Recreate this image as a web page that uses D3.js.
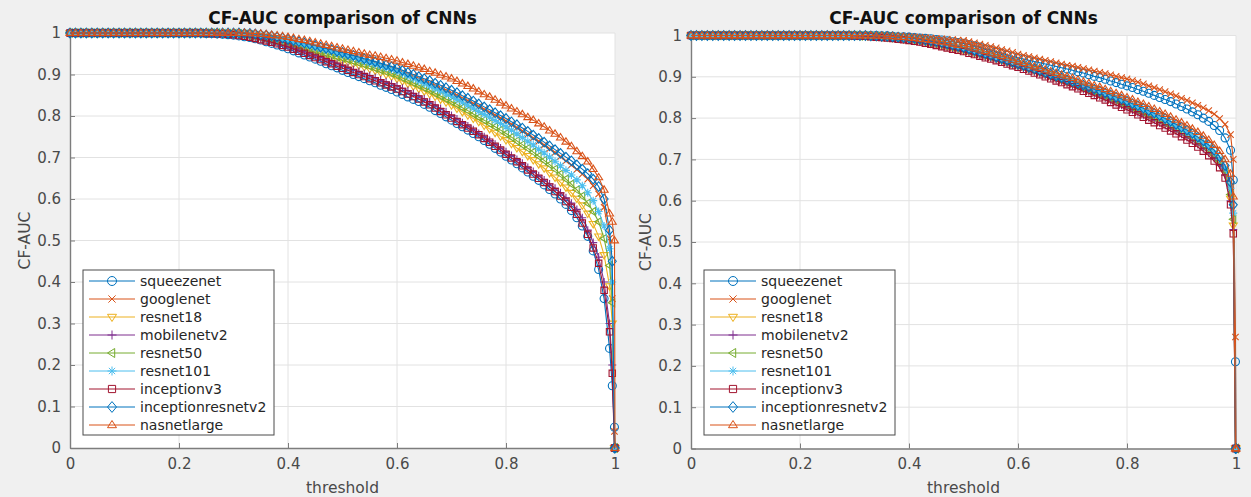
<!DOCTYPE html>
<html>
<head>
<meta charset="utf-8">
<script src="https://cdn.jsdelivr.net/npm/d3@7"></script>
<style>
  html, body { margin: 0; padding: 0; background: #f0f0f0; }
  svg { display: block; font-family: "DejaVu Sans", sans-serif; }
</style>
</head>
<body>
<svg id="fig" width="1251" height="497"></svg>
<script>
// Threshold values along the x axis
const thresholds = [
  0,0.01,0.02,0.03,0.04,0.05,0.06,0.07,0.08,0.09,
  0.1,0.11,0.12,0.13,0.14,0.15,0.16,0.17,0.18,0.19,
  0.2,0.21,0.22,0.23,0.24,0.25,0.26,0.27,0.28,0.29,
  0.3,0.31,0.32,0.33,0.34,0.35,0.36,0.37,0.38,0.39,
  0.4,0.41,0.42,0.43,0.44,0.45,0.46,0.47,0.48,0.49,
  0.5,0.51,0.52,0.53,0.54,0.55,0.56,0.57,0.58,0.59,
  0.6,0.61,0.62,0.63,0.64,0.65,0.66,0.67,0.68,0.69,
  0.7,0.71,0.72,0.73,0.74,0.75,0.76,0.77,0.78,0.79,
  0.8,0.81,0.82,0.83,0.84,0.85,0.86,0.87,0.88,0.89,
  0.9,0.91,0.92,0.93,0.94,0.95,0.96,0.97,0.98,0.99,
  0.995,0.999,1
];

const networks = ["squeezenet","googlenet","resnet18","mobilenetv2","resnet50",
                  "resnet101","inceptionv3","inceptionresnetv2","nasnetlarge"];
const lineColors = ["#0072BD","#D95319","#EDB120","#7E2F8E","#77AC30",
                    "#4DBEEE","#A2142F","#0072BD","#D95319"];
const markerKinds = ["o","x","v","+","<","*","s","d","^"];

const xTickValues = [0,0.2,0.4,0.6,0.8,1];
const xTickLabels = ["0","0.2","0.4","0.6","0.8","1"];
const yTickValues = [0,0.1,0.2,0.3,0.4,0.5,0.6,0.7,0.8,0.9,1];
const yTickLabels = ["0","0.1","0.2","0.3","0.4","0.5","0.6","0.7","0.8","0.9","1"];

const chartTitle = "CF-AUC comparison of CNNs";
const xLabel = "threshold";
const yLabel = "CF-AUC";

// ---- first experiment ----
const leftSqueezenet = [
  1,1,1,1,1,1,1,1,1,1,
  1,1,1,1,1,1,1,1,1,1,
  1,1,1,1,1,.999,.999,.998,.997,.996,
  .995,.993,.991,.989,.986,.983,.979,.975,.971,.967,
  .962,.957,.952,.947,.942,.937,.932,.926,.921,.916,
  .910,.905,.900,.895,.890,.885,.880,.874,.869,.864,
  .858,.852,.846,.840,.835,.828,.821,.813,.806,.798,
  .790,.782,.774,.766,.758,.750,.741,.732,.722,.713,
  .703,.694,.685,.675,.665,.655,.645,.634,.623,.612,
  .600,.587,.572,.555,.535,.510,.475,.430,.360,.240,
  .150,.050,0];
const leftGooglenet = [
  1,1,1,1,1,1,1,1,1,1,
  1,1,1,1,1,1,1,1,1,1,
  1,1,1,1,1,1,1,1,1,1,
  1,.999,.999,.998,.997,.995,.993,.991,.989,.986,
  .983,.980,.977,.974,.971,.967,.964,.960,.957,.953,
  .950,.946,.943,.939,.935,.931,.927,.923,.919,.915,
  .911,.906,.901,.896,.891,.885,.880,.874,.868,.862,
  .856,.850,.843,.837,.830,.823,.816,.809,.802,.795,
  .788,.780,.772,.764,.756,.747,.739,.730,.721,.712,
  .702,.692,.682,.671,.660,.648,.632,.612,.580,.505,
  .360,.040,0];
const leftResnet18 = [
  1,1,1,1,1,1,1,1,1,1,
  1,1,1,1,1,1,1,1,1,1,
  1,1,1,1,1,1,1,.999,.999,.999,
  .998,.997,.995,.993,.991,.989,.986,.983,.980,.978,
  .975,.971,.967,.963,.959,.955,.951,.946,.942,.938,
  .934,.930,.926,.922,.918,.914,.910,.905,.900,.895,
  .890,.884,.878,.872,.866,.860,.853,.847,.840,.833,
  .826,.818,.810,.802,.794,.786,.777,.769,.760,.751,
  .742,.733,.723,.714,.704,.694,.684,.674,.663,.652,
  .640,.628,.615,.601,.585,.565,.540,.510,.465,.390,
  .300,0,0];
const leftMobilenetv2 = [
  1,1,1,1,1,1,1,1,1,1,
  1,1,1,1,1,1,1,1,1,1,
  1,1,1,1,1,1,.999,.999,.998,.998,
  .997,.995,.993,.991,.989,.986,.983,.979,.976,.972,
  .968,.964,.959,.955,.950,.945,.941,.936,.931,.927,
  .922,.917,.912,.907,.902,.897,.892,.887,.882,.878,
  .873,.867,.861,.854,.848,.841,.834,.826,.818,.810,
  .801,.793,.784,.776,.767,.758,.750,.741,.732,.723,
  .714,.705,.695,.686,.676,.666,.656,.646,.636,.626,
  .615,.603,.590,.575,.555,.525,.495,.460,.400,.300,
  .200,0,0];
const leftResnet50 = [
  1,1,1,1,1,1,1,1,1,1,
  1,1,1,1,1,1,1,1,1,1,
  1,1,1,1,1,1,1,1,.999,.999,
  .999,.998,.997,.995,.993,.991,.989,.986,.983,.980,
  .978,.974,.970,.966,.962,.958,.954,.950,.947,.943,
  .940,.936,.932,.928,.924,.920,.915,.911,.907,.903,
  .898,.892,.886,.880,.874,.868,.862,.855,.848,.841,
  .835,.828,.820,.813,.805,.797,.790,.782,.774,.766,
  .758,.749,.740,.731,.722,.713,.703,.693,.683,.672,
  .660,.648,.636,.622,.607,.590,.570,.545,.505,.440,
  .350,0,0];
const leftResnet101 = [
  1,1,1,1,1,1,1,1,1,1,
  1,1,1,1,1,1,1,1,1,1,
  1,1,1,1,1,1,1,1,1,.999,
  .999,.999,.998,.997,.995,.993,.991,.989,.986,.984,
  .982,.979,.976,.972,.969,.965,.962,.958,.955,.951,
  .947,.944,.940,.936,.932,.928,.924,.920,.916,.912,
  .908,.902,.896,.890,.884,.878,.872,.866,.860,.853,
  .847,.840,.833,.826,.819,.811,.804,.797,.789,.782,
  .774,.766,.757,.748,.739,.730,.720,.711,.701,.691,
  .680,.669,.658,.646,.632,.615,.596,.570,.535,.480,
  .400,0,0];
const leftInceptionv3 = [
  1,1,1,1,1,1,1,1,1,1,
  1,1,1,1,1,1,1,1,1,1,
  1,1,1,1,1,.999,.999,.998,.998,.997,
  .996,.994,.992,.990,.987,.984,.981,.978,.974,.970,
  .966,.961,.956,.951,.946,.941,.936,.931,.926,.920,
  .915,.910,.905,.900,.895,.890,.885,.880,.875,.870,
  .865,.859,.853,.847,.841,.834,.827,.819,.811,.803,
  .795,.787,.779,.771,.763,.755,.746,.737,.727,.718,
  .708,.699,.690,.680,.670,.660,.650,.640,.629,.618,
  .607,.594,.580,.563,.542,.515,.482,.445,.380,.280,
  .180,0,0];
const leftInceptionresnetv2 = [
  1,1,1,1,1,1,1,1,1,1,
  1,1,1,1,1,1,1,1,1,1,
  1,1,1,1,1,1,1,1,1,1,
  1,1,.999,.999,.998,.996,.995,.993,.990,.988,
  .985,.982,.979,.976,.973,.970,.966,.963,.960,.956,
  .953,.949,.946,.942,.938,.935,.931,.927,.923,.919,
  .915,.910,.905,.900,.895,.890,.885,.879,.874,.868,
  .862,.856,.849,.843,.836,.829,.822,.815,.808,.801,
  .794,.786,.779,.771,.763,.754,.746,.737,.728,.719,
  .710,.701,.692,.682,.672,.661,.648,.630,.600,.525,
  .450,0,0];
const leftNasnetlarge = [
  1,1,1,1,1,1,1,1,1,1,
  1,1,1,1,1,1,1,1,1,1,
  1,1,1,1,1,1,1,1,1,1,
  1,1,1,.999,.999,.998,.997,.995,.994,.992,
  .990,.988,.985,.983,.980,.977,.974,.971,.968,.965,
  .962,.959,.956,.953,.950,.947,.945,.942,.939,.936,
  .933,.929,.925,.921,.917,.913,.908,.904,.899,.895,
  .890,.884,.878,.872,.866,.859,.852,.846,.839,.832,
  .825,.818,.811,.804,.797,.790,.782,.774,.765,.757,
  .748,.738,.727,.715,.703,.690,.672,.652,.622,.565,
  .545,.500,0];

// ---- second experiment ----
const rightSqueezenet = [
  1,1,1,1,1,1,1,1,1,1,
  1,1,1,1,1,1,1,1,1,1,
  1,1,1,1,1,1,1,1,1,1,
  1,1,1,1,1,.999,.999,.998,.997,.997,
  .996,.995,.994,.993,.992,.990,.989,.987,.985,.983,
  .981,.978,.975,.972,.968,.965,.961,.957,.953,.949,
  .946,.943,.940,.937,.934,.931,.928,.925,.922,.919,
  .916,.912,.909,.905,.901,.898,.894,.890,.886,.882,
  .878,.874,.869,.865,.860,.855,.850,.845,.840,.834,
  .828,.822,.815,.808,.800,.792,.782,.770,.752,.722,
  .650,.210,0];
const rightGooglenet = [
  1,1,1,1,1,1,1,1,1,1,
  1,1,1,1,1,1,1,1,1,1,
  1,1,1,1,1,1,1,1,1,1,
  1,1,1,1,1,.999,.999,.998,.998,.997,
  .997,.996,.996,.995,.994,.993,.992,.991,.990,.989,
  .988,.985,.982,.979,.976,.973,.970,.966,.963,.959,
  .955,.952,.949,.946,.943,.940,.937,.934,.931,.928,
  .926,.923,.920,.917,.914,.911,.908,.905,.901,.898,
  .895,.891,.887,.883,.878,.874,.869,.864,.859,.854,
  .848,.843,.837,.831,.825,.818,.810,.799,.785,.760,
  .700,.270,0];
const rightResnet18 = [
  1,1,1,1,1,1,1,1,1,1,
  1,1,1,1,1,1,1,1,1,1,
  1,1,1,1,1,1,1,1,1,1,
  1,.999,.999,.998,.997,.996,.995,.994,.993,.991,
  .990,.988,.986,.984,.981,.979,.976,.973,.970,.967,
  .964,.961,.957,.954,.950,.947,.943,.939,.935,.931,
  .927,.923,.918,.914,.910,.905,.900,.896,.891,.886,
  .882,.877,.872,.867,.862,.856,.851,.846,.840,.835,
  .829,.823,.817,.811,.805,.799,.793,.786,.779,.772,
  .765,.757,.749,.740,.730,.719,.706,.690,.667,.605,
  .540,0,0];
const rightMobilenetv2 = [
  1,1,1,1,1,1,1,1,1,1,
  1,1,1,1,1,1,1,1,1,1,
  1,1,1,1,1,1,1,1,1,1,
  1,.999,.999,.998,.997,.996,.995,.994,.992,.991,
  .989,.987,.985,.983,.980,.977,.975,.972,.969,.966,
  .963,.959,.956,.952,.948,.945,.941,.937,.933,.929,
  .925,.921,.916,.912,.907,.903,.898,.893,.889,.884,
  .879,.874,.869,.864,.858,.853,.848,.842,.837,.831,
  .825,.819,.813,.807,.801,.795,.788,.782,.775,.768,
  .761,.753,.745,.736,.726,.715,.702,.686,.662,.600,
  .530,0,0];
const rightResnet50 = [
  1,1,1,1,1,1,1,1,1,1,
  1,1,1,1,1,1,1,1,1,1,
  1,1,1,1,1,1,1,1,1,1,
  1,.999,.999,.998,.998,.997,.996,.995,.994,.993,
  .991,.989,.987,.985,.983,.980,.978,.975,.972,.969,
  .966,.963,.959,.956,.952,.949,.945,.941,.937,.933,
  .929,.925,.921,.917,.912,.908,.903,.899,.894,.889,
  .885,.880,.875,.870,.865,.860,.855,.849,.844,.838,
  .833,.827,.821,.815,.809,.803,.797,.790,.784,.777,
  .770,.762,.754,.745,.736,.725,.712,.696,.673,.615,
  .555,0,0];
const rightResnet101 = [
  1,1,1,1,1,1,1,1,1,1,
  1,1,1,1,1,1,1,1,1,1,
  1,1,1,1,1,1,1,1,1,1,
  1,1,.999,.999,.998,.998,.997,.996,.995,.994,
  .993,.991,.989,.987,.985,.983,.980,.977,.974,.971,
  .968,.965,.961,.957,.953,.949,.945,.942,.938,.935,
  .931,.927,.922,.918,.914,.910,.905,.901,.896,.892,
  .887,.882,.878,.873,.868,.863,.858,.853,.848,.843,
  .838,.832,.826,.820,.814,.808,.802,.795,.788,.781,
  .774,.766,.758,.749,.740,.730,.717,.701,.679,.630,
  .570,0,0];
const rightInceptionv3 = [
  1,1,1,1,1,1,1,1,1,1,
  1,1,1,1,1,1,1,1,1,1,
  1,1,1,1,1,1,1,1,1,1,
  .999,.999,.998,.997,.996,.995,.994,.993,.991,.990,
  .988,.986,.984,.981,.979,.976,.973,.970,.967,.964,
  .961,.957,.954,.950,.946,.943,.939,.935,.931,.927,
  .923,.918,.914,.909,.905,.900,.895,.890,.886,.881,
  .876,.871,.865,.860,.855,.849,.844,.838,.832,.826,
  .820,.814,.808,.802,.795,.789,.782,.776,.769,.762,
  .755,.747,.739,.730,.720,.709,.696,.680,.655,.590,
  .520,0,0];
const rightInceptionresnetv2 = [
  1,1,1,1,1,1,1,1,1,1,
  1,1,1,1,1,1,1,1,1,1,
  1,1,1,1,1,1,1,1,1,1,
  1,1,1,.999,.999,.998,.998,.997,.996,.995,
  .994,.993,.991,.989,.987,.985,.983,.980,.977,.974,
  .971,.968,.964,.960,.956,.952,.948,.944,.940,.935,
  .931,.927,.923,.919,.915,.910,.906,.902,.898,.893,
  .889,.884,.880,.875,.870,.866,.861,.856,.851,.846,
  .841,.835,.830,.824,.818,.812,.806,.799,.792,.785,
  .778,.771,.763,.754,.745,.735,.722,.706,.685,.645,
  .590,0,0];
const rightNasnetlarge = [
  1,1,1,1,1,1,1,1,1,1,
  1,1,1,1,1,1,1,1,1,1,
  1,1,1,1,1,1,1,1,1,1,
  1,1,1,1,.999,.999,.998,.998,.997,.996,
  .995,.994,.992,.991,.989,.987,.985,.983,.980,.977,
  .976,.973,.969,.966,.962,.958,.954,.950,.946,.941,
  .937,.933,.929,.925,.921,.917,.913,.909,.905,.901,
  .897,.893,.888,.884,.879,.875,.870,.865,.860,.855,
  .850,.845,.839,.834,.828,.822,.816,.810,.803,.796,
  .789,.782,.774,.766,.757,.747,.735,.720,.700,.665,
  .610,0,0];

const leftSeries = [leftSqueezenet, leftGooglenet, leftResnet18, leftMobilenetv2, leftResnet50,
                    leftResnet101, leftInceptionv3, leftInceptionresnetv2, leftNasnetlarge];
const rightSeries = [rightSqueezenet, rightGooglenet, rightResnet18, rightMobilenetv2, rightResnet50,
                     rightResnet101, rightInceptionv3, rightInceptionresnetv2, rightNasnetlarge];

// Marker shapes, centred on the origin
function markerPath(kind, s) {
  const h = s / 2;
  switch (kind) {
    case "o": { const p = d3.path(); p.arc(0, 0, h, 0, 2 * Math.PI); p.closePath(); return p.toString(); }
    case "x": { const k = h * 0.8; return `M${-k},${-k}L${k},${k}M${-k},${k}L${k},${-k}`; }
    case "+": return `M${-h},0L${h},0M0,${-h}L0,${h}`;
    case "*": { const k = h * 0.7; return `M${-h},0L${h},0M0,${-h}L0,${h}M${-k},${-k}L${k},${k}M${-k},${k}L${k},${-k}`; }
    case "v": return `M${-h},${-h * 0.6}L${h},${-h * 0.6}L0,${h}Z`;
    case "^": return `M${-h},${h * 0.6}L${h},${h * 0.6}L0,${-h}Z`;
    case "<": return `M${h * 0.6},${-h}L${h * 0.6},${h}L${-h},0Z`;
    case "s": { const k = h * 0.8; return `M${-k},${-k}L${k},${-k}L${k},${k}L${-k},${k}Z`; }
    case "d": return `M0,${-h * 1.2}L${h},0L0,${h * 1.2}L${-h},0Z`;
  }
  return "";
}

const svg = d3.select("#fig");
const markerSize = 8;

function drawPanel(cfg) {
  const x = d3.scaleLinear().domain([0, 1]).range([cfg.left, cfg.right]);
  const y = d3.scaleLinear().domain([0, 1]).range([cfg.bottom, cfg.top]);
  const g = svg.append("g");

  // axes background
  g.append("rect")
    .attr("x", cfg.left).attr("y", cfg.top)
    .attr("width", cfg.right - cfg.left).attr("height", cfg.bottom - cfg.top)
    .attr("fill", "#ffffff");

  // grid lines
  g.append("g").selectAll("line").data(xTickValues.slice(1)).join("line")
    .attr("x1", d => x(d)).attr("x2", d => x(d))
    .attr("y1", cfg.top).attr("y2", cfg.bottom)
    .attr("stroke", "#e2e2e2").attr("stroke-width", 1);
  g.append("g").selectAll("line").data(yTickValues.slice(1)).join("line")
    .attr("x1", cfg.left).attr("x2", cfg.right)
    .attr("y1", d => y(d)).attr("y2", d => y(d))
    .attr("stroke", "#e2e2e2").attr("stroke-width", 1);

  // axes with inward ticks
  const xAxis = d3.axisBottom(x).tickValues(xTickValues)
    .tickFormat((d, i) => xTickLabels[i]).tickSizeInner(-5).tickSizeOuter(0).tickPadding(10);
  const yAxis = d3.axisLeft(y).tickValues(yTickValues)
    .tickFormat((d, i) => yTickLabels[i]).tickSizeInner(-5).tickSizeOuter(0).tickPadding(9);

  const gx = g.append("g").attr("transform", `translate(0,${cfg.bottom})`).call(xAxis);
  const gy = g.append("g").attr("transform", `translate(${cfg.left},0)`).call(yAxis);
  [gx, gy].forEach(a => {
    a.select(".domain").attr("stroke", "#7d7d7d").attr("stroke-width", 1.4);
    a.selectAll(".tick line").attr("stroke", "#7d7d7d");
    a.selectAll(".tick text").attr("fill", "#4a4a4a")
      .style("font-family", "'DejaVu Sans', sans-serif").style("font-size", "15px");
  });

  // series lines and markers
  const line = d3.line().x((d, i) => x(thresholds[i])).y(d => y(d));
  cfg.series.forEach((vals, k) => {
    const sg = g.append("g");
    sg.append("path").datum(vals)
      .attr("d", line).attr("fill", "none")
      .attr("stroke", lineColors[k]).attr("stroke-width", 1.1);
    sg.selectAll("path.m").data(vals).join("path").attr("class", "m")
      .attr("d", markerPath(markerKinds[k], markerSize))
      .attr("transform", (d, i) => `translate(${x(thresholds[i])},${y(d)})`)
      .attr("fill", "none").attr("stroke", lineColors[k]).attr("stroke-width", 1.1);
  });

  // title and axis labels
  const cx = (cfg.left + cfg.right) / 2;
  g.append("text").attr("x", cx).attr("y", 24).attr("text-anchor", "middle")
    .attr("font-weight", "bold").attr("font-size", 17).attr("fill", "#111")
    .text(chartTitle);
  g.append("text").attr("x", cx).attr("y", 493).attr("text-anchor", "middle")
    .attr("font-size", 15.5).attr("fill", "#4a4a4a").text(xLabel);
  g.append("text")
    .attr("transform", `translate(${cfg.left - 40},${(cfg.top + cfg.bottom) / 2}) rotate(-90)`)
    .attr("text-anchor", "middle").attr("font-size", 15.5).attr("fill", "#4a4a4a")
    .text(yLabel);

  // legend
  const lx = cfg.left + 13, ly = 270, lw = 191, rowH = 18;
  const lg = g.append("g");
  lg.append("rect").attr("x", lx).attr("y", ly).attr("width", lw).attr("height", rowH * 9 + 3)
    .attr("fill", "#fff").attr("stroke", "#4a4a4a").attr("stroke-width", 1);
  networks.forEach((name, k) => {
    const ry = ly + 11 + k * rowH;
    lg.append("line").attr("x1", lx + 6).attr("x2", lx + 52).attr("y1", ry).attr("y2", ry)
      .attr("stroke", lineColors[k]).attr("stroke-width", 1);
    lg.append("path").attr("d", markerPath(markerKinds[k], markerSize + 1))
      .attr("transform", `translate(${lx + 29},${ry})`)
      .attr("fill", "none").attr("stroke", lineColors[k]).attr("stroke-width", 1);
    lg.append("text").attr("x", lx + 57).attr("y", ry).attr("dy", "0.35em")
      .attr("font-size", 14).attr("fill", "#262626").text(name);
  });
}

drawPanel({ series: leftSeries, left: 70, right: 615, top: 33, bottom: 448 });
drawPanel({ series: rightSeries, left: 691, right: 1236, top: 35.5, bottom: 448.5 });
</script>
</body>
</html>
